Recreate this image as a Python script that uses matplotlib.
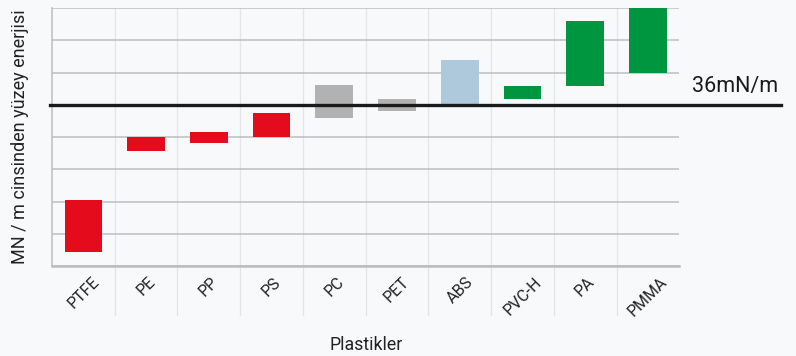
import matplotlib
matplotlib.use("Agg")
import matplotlib.pyplot as plt

# Surface energy ranges (mN/m) of common plastics
plastics = ["PTFE", "PE", "PP", "PS", "PC", "PET", "ABS", "PVC-H", "PA", "PMMA"]
energy_low = [17.7, 30.3, 31.3, 32.0, 34.4, 35.2, 36.0, 36.7, 38.3, 39.9]
energy_high = [24.2, 32.0, 32.6, 35.0, 38.5, 36.7, 41.6, 38.3, 46.4, 48.0]
group = ["low", "low", "low", "low", "mid", "mid", "abs", "high", "high", "high"]
threshold = 36
threshold_label = "36mN/m"
x_title = "Plastikler"
y_title = "MN / m cinsinden yüzey enerjisi"

palette = {"low": "#E30B1C", "mid": "#B2B2B2", "abs": "#ADC9DB", "high": "#009640"}

plt.rcParams["font.family"] = ["Roboto", "DejaVu Sans"]

fig = plt.figure(figsize=(7.96, 3.56), dpi=100, facecolor="#F8F9FA")
ax = fig.add_axes([0.0653, 0.2528, 0.788, 0.7247])
ax.set_facecolor("none")

ax.set_xlim(-0.5, len(plastics) - 0.5)
ax.set_ylim(16, 48)
ax.set_yticks(range(16, 49, 4))
ax.set_yticklabels([])
ax.tick_params(axis="y", length=0)
ax.grid(axis="y", color="#BDBDBD", linewidth=1.1)
ax.set_axisbelow(True)

# category separators, reaching down into the label area
for k in range(1, len(plastics)):
    ax.plot([k - 0.5, k - 0.5], [0, -0.19], color="#E3E3E3", linewidth=0.9,
            transform=ax.get_xaxis_transform(), clip_on=False, zorder=0)
    ax.plot([k - 0.5, k - 0.5], [0, 1], color="#E6E6E6", linewidth=0.9,
            transform=ax.get_xaxis_transform(), zorder=0.5)

colors = [palette[g] for g in group]
heights = [h - l for l, h in zip(energy_low, energy_high)]
ax.bar(range(len(plastics)), heights, bottom=energy_low, width=0.6,
       color=colors, zorder=2)

# threshold line
ax.plot([-0.003, 1.163], [threshold, threshold], color="#1A1A1A", linewidth=2.4,
        transform=ax.get_yaxis_transform(), clip_on=False, zorder=3)
ax.text(1.021, threshold + 1.6, threshold_label, transform=ax.get_yaxis_transform(),
        fontsize=15.5, color="#1A1A1A", va="baseline", ha="left")

ax.set_xticks(range(len(plastics)))
ax.set_xticklabels(plastics, rotation=45, ha="center", va="top",
                   fontsize=11.5, color="#222222")
ax.tick_params(axis="x", length=0, pad=6)

for side in ("top", "right"):
    ax.spines[side].set_visible(False)
ax.spines["left"].set_color("#BDBDBD")
ax.spines["left"].set_linewidth(1.1)
ax.spines["bottom"].set_color("#BDBDBD")
ax.spines["bottom"].set_linewidth(1.8)

fig.text(366 / 796, 1 - 350 / 356, x_title, fontsize=12.8, ha="center",
         va="baseline", color="#222222")
fig.text(20 / 796, 1 - 136.5 / 356, y_title, fontsize=13, rotation=90,
         ha="center", va="center", color="#222222")

fig.savefig("out.png", dpi=100, facecolor=fig.get_facecolor())
